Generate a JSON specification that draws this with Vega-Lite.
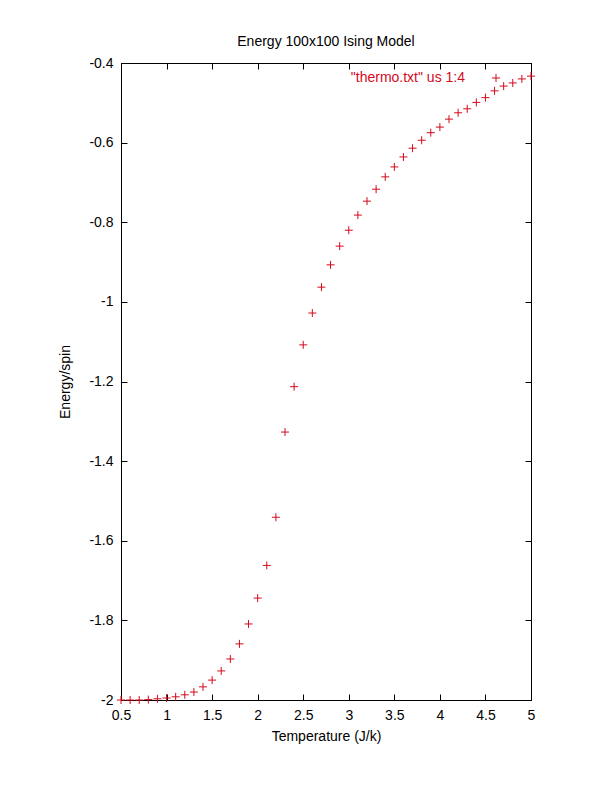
{
  "$schema": "https://vega.github.io/schema/vega-lite/v6.json",
  "autosize": {"type": "none"},
  "width": 410,
  "height": 637,
  "padding": {"left": 121, "top": 63, "right": 81, "bottom": 92},
  "background": "white",
  "title": {"text": "Energy 100x100 Ising Model", "font": "Liberation Sans", "fontSize": 14, "fontWeight": "normal", "color": "black", "offset": 7},
  "data": {"values": [
    {"T": 0.5, "E": -2.0}, {"T": 0.6, "E": -2.0}, {"T": 0.7, "E": -2.0}, {"T": 0.8, "E": -1.999},
    {"T": 0.9, "E": -1.997}, {"T": 1.0, "E": -1.995}, {"T": 1.1, "E": -1.992}, {"T": 1.2, "E": -1.987},
    {"T": 1.3, "E": -1.980}, {"T": 1.4, "E": -1.967}, {"T": 1.5, "E": -1.950}, {"T": 1.6, "E": -1.927},
    {"T": 1.7, "E": -1.897}, {"T": 1.8, "E": -1.859}, {"T": 1.9, "E": -1.809}, {"T": 2.0, "E": -1.744},
    {"T": 2.1, "E": -1.662}, {"T": 2.2, "E": -1.541}, {"T": 2.3, "E": -1.327}, {"T": 2.4, "E": -1.213},
    {"T": 2.5, "E": -1.108}, {"T": 2.6, "E": -1.028}, {"T": 2.7, "E": -0.963}, {"T": 2.8, "E": -0.907},
    {"T": 2.9, "E": -0.860}, {"T": 3.0, "E": -0.820}, {"T": 3.1, "E": -0.782}, {"T": 3.2, "E": -0.747},
    {"T": 3.3, "E": -0.717}, {"T": 3.4, "E": -0.686}, {"T": 3.5, "E": -0.661}, {"T": 3.6, "E": -0.636},
    {"T": 3.7, "E": -0.614}, {"T": 3.8, "E": -0.594}, {"T": 3.9, "E": -0.575}, {"T": 4.0, "E": -0.561},
    {"T": 4.1, "E": -0.541}, {"T": 4.2, "E": -0.525}, {"T": 4.3, "E": -0.515}, {"T": 4.4, "E": -0.499},
    {"T": 4.5, "E": -0.487}, {"T": 4.6, "E": -0.470}, {"T": 4.7, "E": -0.458}, {"T": 4.8, "E": -0.450},
    {"T": 4.9, "E": -0.440}, {"T": 5.0, "E": -0.433}
  ]},
  "layer": [
    {
      "mark": {"type": "point", "shape": "M-1,0H1M0,-1V1", "filled": false, "size": 64, "strokeWidth": 1, "opacity": 1},
      "encoding": {
        "x": {"field": "T", "type": "quantitative", "scale": {"domain": [0.5, 5], "nice": false, "zero": false},
              "axis": {"orient": "bottom", "title": "Temperature (J/k)", "values": [0.5,1,1.5,2,2.5,3,3.5,4,4.5,5], "labelExpr": "'' + datum.value", "labelFlush": false, "titlePadding": 7}},
        "y": {"field": "E", "type": "quantitative", "scale": {"domain": [-2, -0.4], "nice": false, "zero": false},
              "axis": {"orient": "left", "title": "Energy/spin", "values": [-2,-1.8,-1.6,-1.4,-1.2,-1,-0.8,-0.6,-0.4], "labelExpr": "'' + datum.value", "labelFlush": false, "titlePadding": 16}},
        "color": {"datum": "\"thermo.txt\" us 1:4", "type": "nominal", "scale": {"range": ["#d40a1c"]},
                  "legend": {"title": null, "orient": "none", "legendX": 368, "legendY": 8, "labelAlign": "right", "labelOffset": -38, "labelColor": "#d40a1c", "labelFont": "Liberation Sans", "labelFontSize": 14, "symbolSize": 64, "symbolStrokeWidth": 1, "symbolStrokeColor": "#d40a1c", "symbolType": "M-1,0H1M0,-1V1", "padding": 0}}
      }
    },
    {
      "mark": {"type": "point", "opacity": 0},
      "encoding": {
        "x": {"field": "T", "type": "quantitative", "scale": {"domain": [0.5, 5], "nice": false, "zero": false},
              "axis": {"orient": "top", "title": null, "labels": false, "values": [0.5,1,1.5,2,2.5,3,3.5,4,4.5,5]}},
        "y": {"field": "E", "type": "quantitative", "scale": {"domain": [-2, -0.4], "nice": false, "zero": false},
              "axis": {"orient": "right", "title": null, "labels": false, "values": [-2,-1.8,-1.6,-1.4,-1.2,-1,-0.8,-0.6,-0.4]}}
      }
    }
  ],
  "resolve": {"scale": {"x": "independent", "y": "independent"}},
  "config": {
    "view": {"stroke": "black", "strokeWidth": 1},
    "axis": {"grid": false, "domainColor": "black", "tickColor": "black", "tickSize": -6, "labelPadding": 14, "labelColor": "black", "labelFont": "Liberation Sans", "labelFontSize": 14, "titleFont": "Liberation Sans", "titleFontSize": 14, "titleFontWeight": "normal", "titleColor": "black"}
  }
}
